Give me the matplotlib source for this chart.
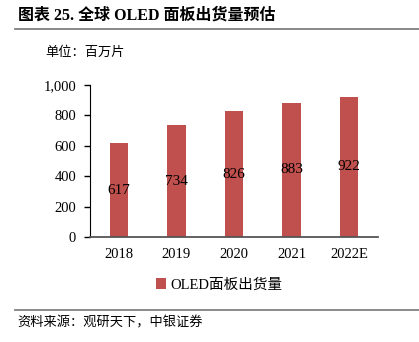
import matplotlib.pyplot as plt
from matplotlib.lines import Line2D

plt.rcParams['font.family'] = ['Liberation Serif', 'Noto Sans CJK SC']

years = ['2018', '2019', '2020', '2021', '2022E']
shipments = [617, 734, 826, 883, 922]
yticks = [0, 200, 400, 600, 800, 1000]
ytick_labels = ['0', '200', '400', '600', '800', '1,000']

W, H = 419, 342
fig = plt.figure(figsize=(W / 100, H / 100), dpi=100)
ax = fig.add_axes([90 / W, 1 - 237 / H, 288 / W, 152 / H])

bars = ax.bar(years, shipments, width=0.32, color='#C0504D', label='OLED面板出货量')
for b, v in zip(bars, shipments):
    ax.text(b.get_x() + b.get_width() / 2, v / 2, str(v), ha='center', va='center',
            fontsize=11, color='black')

ax.set_ylim(0, 1000)
ax.set_xlim(-0.5, 4.5)
ax.set_yticks(yticks)
ax.set_yticklabels(ytick_labels)
ax.tick_params(axis='y', direction='out', length=4, width=1, labelsize=10.5, pad=6)
ax.tick_params(axis='x', length=0, labelsize=10.5, pad=8)
for s in ['top', 'right']:
    ax.spines[s].set_visible(False)
ax.spines['left'].set_color('black')
ax.spines['bottom'].set_color('#555555')
ax.spines['bottom'].set_linewidth(1.3)

# legend sits left of the axes centre in the original
fig.legend(loc='center left', bbox_to_anchor=(150 / W, 1 - 285 / H), frameon=False,
           fontsize=10.5, handlelength=0.7, handleheight=0.7, handletextpad=0.3,
           borderaxespad=0)

fig.text(18 / W, 1 - 16 / H, '图表 25. 全球 OLED 面板出货量预估', fontsize=11.5,
         fontweight='bold', va='center', ha='left')
fig.add_artist(Line2D([15 / W, 1], [1 - 29 / H, 1 - 29 / H], color='#808080', lw=1.3))
fig.text(45 / W, 1 - 53 / H, '单位：百万片', fontsize=9.5, va='center', ha='left')
fig.add_artist(Line2D([15 / W, 1], [1 - 310 / H, 1 - 310 / H], color='#808080', lw=1.3))
fig.text(17 / W, 1 - 323 / H, '资料来源：观研天下，中银证券', fontsize=9.5, style='italic',
         va='center', ha='left')

fig.savefig('out.png', dpi=100)
